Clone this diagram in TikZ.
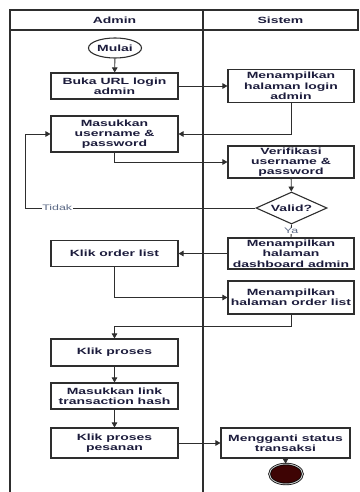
\documentclass[tikz,border=0pt]{standalone}
\usepackage{fontspec}
\setmainfont{Liberation Sans}[FakeStretch=1.55]
\usetikzlibrary{shapes.geometric,arrows.meta}
\definecolor{txt}{HTML}{1C1C3C}
\definecolor{ln}{HTML}{2E2E2E}
\definecolor{lbl}{HTML}{5C6A86}
\definecolor{endfill}{HTML}{3E0404}
\begin{document}
\begin{tikzpicture}[x=1pt,y=-1pt,
  font=\fontsize{9}{10.3}\selectfont\bfseries,
  every node/.style={text=txt},
  act/.style={draw=ln, line width=1.1pt, rectangle, fill=white, align=center,
    inner sep=0pt, minimum width=127pt},
  sysact/.style={act, minimum width=126pt},
  flow/.style={draw=ln, line width=0.9pt, -{Triangle[length=5pt,width=5.5pt]}},
  plain/.style={draw=ln, line width=0.9pt},
  edgelbl/.style={font=\fontsize{8}{9}\selectfont\mdseries, text=lbl, fill=white, inner sep=0.5pt},
  lane/.style={draw=ln, line width=1.3pt}]
\useasboundingbox (0,0) rectangle (359,492);

% swimlane frame
\draw[lane] (10,492) -- (10,10) -- (358,10) -- (358,30) -- (10,30);
\draw[lane] (203,10) -- (203,492);
\node at (114.5,20.5) {Admin};
\node at (280.5,20.5) {Sistem};

% activities
\node[ellipse, draw=ln, line width=1.1pt, inner sep=0pt, minimum width=53pt, minimum height=20pt] (mulai) at (115,48) {Mulai};
\node[act, minimum height=26pt] (buka) at (114.5,86) {Buka URL login\\admin};
\node[sysact, minimum height=33pt] (loginpage) at (291,86) {Menampilkan\\halaman login\\admin};
\node[act, minimum height=36pt] (masuk) at (114.5,134) {Masukkan\\username \&\\password};
\node[sysact, minimum height=32pt] (verif) at (291,162) {Verifikasi\\username \&\\password};
\node[diamond, draw=ln, line width=1.1pt, fill=white, inner sep=0pt, aspect=2.2,
      minimum width=71pt, minimum height=32pt] (valid) at (291.5,208) {Valid?};
\node[sysact, minimum height=31pt] (dash) at (291,253.5) {Menampilkan\\halaman\\dashboard admin};
\node[act, minimum height=26pt] (order) at (114.5,253.5) {Klik order list};
\node[sysact, minimum height=33pt] (orderpage) at (291,297.5) {Menampilkan\\halaman order list};
\node[act, minimum height=27pt] (proses) at (114.5,352.5) {Klik proses};
\node[act, minimum height=26pt] (link) at (114.5,396) {Masukkan link\\transaction hash};
\node[act, minimum height=30pt] (pesanan) at (114.5,443) {Klik proses\\pesanan};
\node[act, minimum width=129pt, minimum height=30pt] (ganti) at (285.5,443) {Mengganti status\\transaksi};
\node[ellipse, draw=black, line width=0.7pt, double=black!25, double distance=1pt,
      fill=endfill, minimum width=33pt, minimum height=20pt, inner sep=0pt] (akhir) at (286,474) {};

% turning points of the routed connectors
\coordinate (tback) at (25,134);
\coordinate (turn) at (0,326);

% connectors
\draw[flow] (mulai) -- (buka);
\draw[flow] (buka) -- (loginpage);
\draw[flow] (loginpage.south) |- (masuk.east);
\draw[flow] (masuk.south) |- (verif.west);
\draw[flow] (verif) -- (valid);
\draw[flow] (valid.west) -| (tback) node[edgelbl, pos=0.43] {Tidak} -- (masuk.west);
\draw[plain] (valid.south) -- (dash.north) node[edgelbl, pos=0.5] {Ya};
\draw[flow] (dash) -- (order);
\draw[flow] (order.south) |- (orderpage.west);
\draw[flow] (orderpage.south) |- (proses.north |- turn) -- (proses.north);
\draw[flow] (proses) -- (link);
\draw[flow] (link) -- (pesanan);
\draw[flow] (pesanan) -- (ganti);
\draw[flow] (ganti.south) -- (akhir);
\end{tikzpicture}
\end{document}
